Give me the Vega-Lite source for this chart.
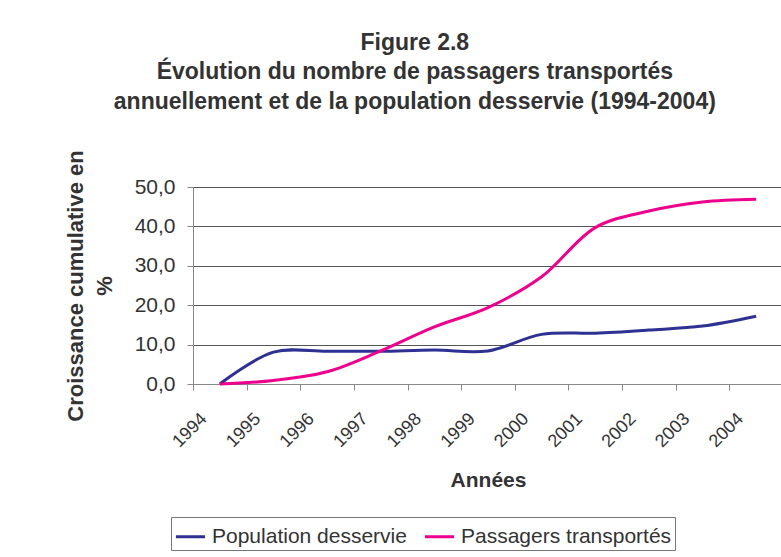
{
  "$schema": "https://vega.github.io/schema/vega-lite/v6.json",
  "width": 590,
  "height": 197,
  "padding": {"left": 64, "top": 31, "right": 1, "bottom": 5},
  "background": "white",
  "title": {
    "text": ["Figure 2.8", "Évolution du nombre de passagers transportés", "annuellement et de la population desservie (1994-2004)"],
    "font": "Liberation Sans",
    "fontSize": 23,
    "fontWeight": "bold",
    "lineHeight": 29.5,
    "color": "#333333",
    "anchor": "middle",
    "frame": "bounds",
    "dx": -9,
    "offset": 36
  },
  "data": {
    "values": [
      {"annee": "1994", "serie": "Population desservie", "valeur": 0},
      {"annee": "1995", "serie": "Population desservie", "valeur": 8.1},
      {"annee": "1996", "serie": "Population desservie", "valeur": 8.3},
      {"annee": "1997", "serie": "Population desservie", "valeur": 8.3},
      {"annee": "1998", "serie": "Population desservie", "valeur": 8.6},
      {"annee": "1999", "serie": "Population desservie", "valeur": 8.4},
      {"annee": "2000", "serie": "Population desservie", "valeur": 12.6},
      {"annee": "2001", "serie": "Population desservie", "valeur": 12.9},
      {"annee": "2002", "serie": "Population desservie", "valeur": 13.7},
      {"annee": "2003", "serie": "Population desservie", "valeur": 14.7},
      {"annee": "2004", "serie": "Population desservie", "valeur": 17.2},
      {"annee": "1994", "serie": "Passagers transportés", "valeur": 0},
      {"annee": "1995", "serie": "Passagers transportés", "valeur": 0.9},
      {"annee": "1996", "serie": "Passagers transportés", "valeur": 3.1},
      {"annee": "1997", "serie": "Passagers transportés", "valeur": 8.4},
      {"annee": "1998", "serie": "Passagers transportés", "valeur": 14.5},
      {"annee": "1999", "serie": "Passagers transportés", "valeur": 19.4},
      {"annee": "2000", "serie": "Passagers transportés", "valeur": 27.2},
      {"annee": "2001", "serie": "Passagers transportés", "valeur": 39.7},
      {"annee": "2002", "serie": "Passagers transportés", "valeur": 43.9},
      {"annee": "2003", "serie": "Passagers transportés", "valeur": 46.2},
      {"annee": "2004", "serie": "Passagers transportés", "valeur": 46.9}
    ]
  },
  "mark": {"type": "line", "interpolate": "catmull-rom", "strokeWidth": 3},
  "encoding": {
    "x": {
      "field": "annee",
      "type": "ordinal",
      "scale": {"type": "band", "paddingInner": 0, "paddingOuter": 0},
      "axis": {
        "title": "Années",
        "titleFontSize": 21,
        "tickBand": "extent",
        "labelAngle": -45,
        "labelAlign": "right",
        "labelBaseline": "middle",
        "labelFontSize": 18,
        "labelPadding": 26,
        "labelOffset": -16,
        "tickSize": 6,
        "grid": false,
        "titlePadding": 19
      }
    },
    "y": {
      "field": "valeur",
      "type": "quantitative",
      "scale": {"domain": [0, 50], "nice": false},
      "axis": {
        "title": ["Croissance cumulative en", "%"],
        "titleFontSize": 22,
        "values": [0, 10, 20, 30, 40, 50],
        "labelExpr": "replace(format(datum.value, '.1f'), '.', ',')",
        "labelFontSize": 21,
        "tickSize": 6,
        "labelPadding": 12,
        "titlePadding": 18,
        "titleLineHeight": 29,
        "grid": true,
        "gridColor": "#555555"
      }
    },
    "color": {
      "field": "serie",
      "type": "nominal",
      "sort": ["Population desservie", "Passagers transportés"],
      "scale": {"domain": ["Population desservie", "Passagers transportés"], "range": ["#2E3192", "#EC008C"]},
      "legend": {
        "title": null,
        "orient": "none",
        "legendX": -22,
        "legendY": 330,
        "direction": "horizontal",
        "symbolType": "stroke",
        "symbolSize": 850,
        "symbolStrokeWidth": 3,
        "labelFontSize": 21,
        "labelFont": "Liberation Sans",
        "labelColor": "#333333",
        "labelLimit": 400,
        "labelOffset": 5,
        "columnPadding": 11,
        "padding": 3,
        "strokeColor": "#777777",
        "fillColor": "white"
      }
    }
  },
  "config": {
    "view": {"stroke": "#888888", "strokeWidth": 1},
    "axis": {
      "labelFont": "Liberation Sans",
      "labelColor": "#333333",
      "titleFont": "Liberation Sans",
      "titleFontWeight": "bold",
      "titleColor": "#333333",
      "domainColor": "#888888",
      "tickColor": "#888888"
    }
  }
}
